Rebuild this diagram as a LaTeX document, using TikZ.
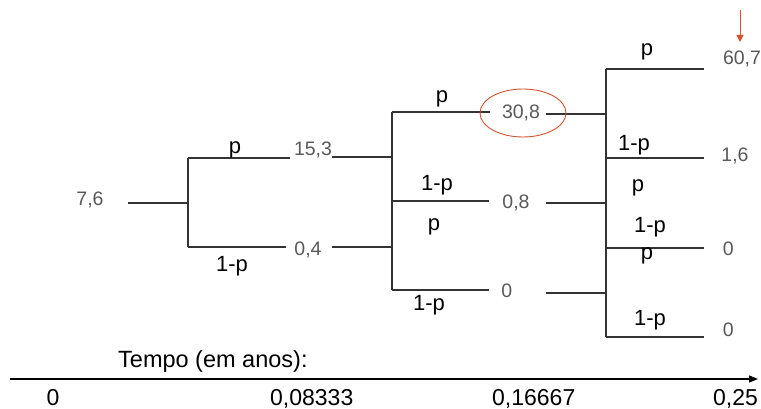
\documentclass[tikz,border=0pt]{standalone}
\usepackage{fontspec}
\setmainfont{Liberation Sans}
\usetikzlibrary{arrows.meta,shapes.geometric}
\definecolor{valgray}{HTML}{595959}
\definecolor{linegray}{HTML}{333333}
\definecolor{hilite}{HTML}{D4522C}
\tikzset{
  branch/.style={draw=linegray, line width=1.1pt},
  val/.style={anchor=base, inner sep=0pt, text=valgray, font=\fontsize{19.5}{22}\selectfont},
  prob/.style={anchor=base, inner sep=0pt, text=black, font=\fontsize{22}{25}\selectfont},
  tick/.style={anchor=base west, inner sep=0pt, text=black, font=\fontsize{23}{26}\selectfont},
}
\begin{document}
\begin{tikzpicture}[x=1pt, y=-1pt]
\useasboundingbox (0,0) rectangle (761,409);

% ---- values at each node of the tree
\node[val] (v0)   at (90,205.7)  {7,6};
\node[val] (v1u)  at (313,156)   {15,3};
\node[val] (v1d)  at (308,255)   {0,4};
\node[val] (v2u)  at (521,119)   {30,8};
\node[val] (v2m)  at (516,208.3) {0,8};
\node[val] (v2d)  at (506.7,297.3) {0};
\node[val] (v3a)  at (742,65)    {60,7};
\node[val] (v3b)  at (735,161.7) {1,6};
\node[val] (v3c)  at (728.3,255) {0};
\node[val] (v3d)  at (728.3,336.7) {0};

% ---- junction points
\coordinate (r0)  at (128,203);
\coordinate (j0)  at (188,203);
\coordinate (j0u) at (188,158);
\coordinate (j0d) at (188,247);
\coordinate (e1u) at (290,158);
\coordinate (e1d) at (286,247);
\coordinate (s1u) at (332,157);
\coordinate (s1d) at (332,247);
\coordinate (k1u) at (392,157);
\coordinate (k1d) at (392,247);
\coordinate (j1u) at (392,112);
\coordinate (j1m) at (392,201);
\coordinate (j1d) at (392,290);
\coordinate (e2u) at (490,112);
\coordinate (e2m) at (489,201);
\coordinate (e2d) at (489,290);
\coordinate (s2u) at (546,114);
\coordinate (s2m) at (546,203);
\coordinate (s2d) at (546,293);
\coordinate (k2u) at (606,114);
\coordinate (k2m) at (606,203);
\coordinate (k2d) at (606,293);
\coordinate (j2a) at (606,69);
\coordinate (j2b) at (606,158);
\coordinate (j2c) at (606,248);
\coordinate (j2d) at (606,337);
\coordinate (e3a) at (704,69);
\coordinate (e3b) at (704,158);
\coordinate (e3c) at (704,248);
\coordinate (e3d) at (704,337);

% ---- first step
\draw[branch] (r0) -- (j0);
\draw[branch] (j0u) -- (j0d);
\draw[branch] (j0u) -- (e1u);
\draw[branch] (j0d) -- (e1d);
% ---- second step
\draw[branch] (s1u) -- (k1u);
\draw[branch] (s1d) -- (k1d);
\draw[branch] (j1u) -- (j1d);
\draw[branch] (j1u) -- (e2u);
\draw[branch] (j1m) -- (e2m);
\draw[branch] (j1d) -- (e2d);
% ---- third step
\draw[branch] (s2u) -- (k2u);
\draw[branch] (s2m) -- (k2m);
\draw[branch] (s2d) -- (k2d);
\draw[branch] (j2a) -- (j2d);
\draw[branch] (j2a) -- (e3a);
\draw[branch] (j2b) -- (e3b);
\draw[branch] (j2c) -- (e3c);
\draw[branch] (j2d) -- (e3d);

% ---- probabilities on the branches
\node[prob] (p1)  at (235,154)   {p};
\node[prob] (q1)  at (232,271)   {1-p};
\node[prob] (p2)  at (442,102.5) {p};
\node[prob] (q2)  at (437,191)   {1-p};
\node[prob] (p3)  at (434,230.5) {p};
\node[prob] (q3)  at (429,310.7) {1-p};
\node[prob] (p4)  at (647,55.5)  {p};
\node[prob] (q4)  at (634,150.8) {1-p};
\node[prob] (p5)  at (638,192)   {p};
\node[prob] (q5)  at (650,232.4) {1-p};
\node[prob] (p6)  at (647,259.7) {p};
\node[prob] (q6)  at (650,325.8) {1-p};

% ---- highlighted value and marker arrow
\node[draw=hilite, line width=0.9pt, ellipse, minimum width=86pt, minimum height=48pt,
      inner sep=0pt] (ring) at (523,113) {};
\coordinate (mk0) at (740,10);
\coordinate (mk1) at (740,42);
\draw[hilite, line width=1pt, -{Triangle[length=7pt,width=7pt]}] (mk0) -- (mk1);

% ---- time axis
\node[tick, font=\fontsize{23.5}{26}\selectfont] (ttl) at (118,367) {Tempo (em anos):};
\coordinate (ax0) at (10,379);
\coordinate (ax1) at (758,379);
\draw[black, line width=1.3pt, -{Triangle[length=9pt,width=7pt]}] (ax0) -- (ax1);
\node[tick] (t0) at (46.5,405.5) {0};
\node[tick] (t1) at (270,405.5) {0,08333};
\node[tick] (t2) at (492,405.5) {0,16667};
\node[tick] (t3) at (713,405.5) {0,25};
\end{tikzpicture}
\end{document}
